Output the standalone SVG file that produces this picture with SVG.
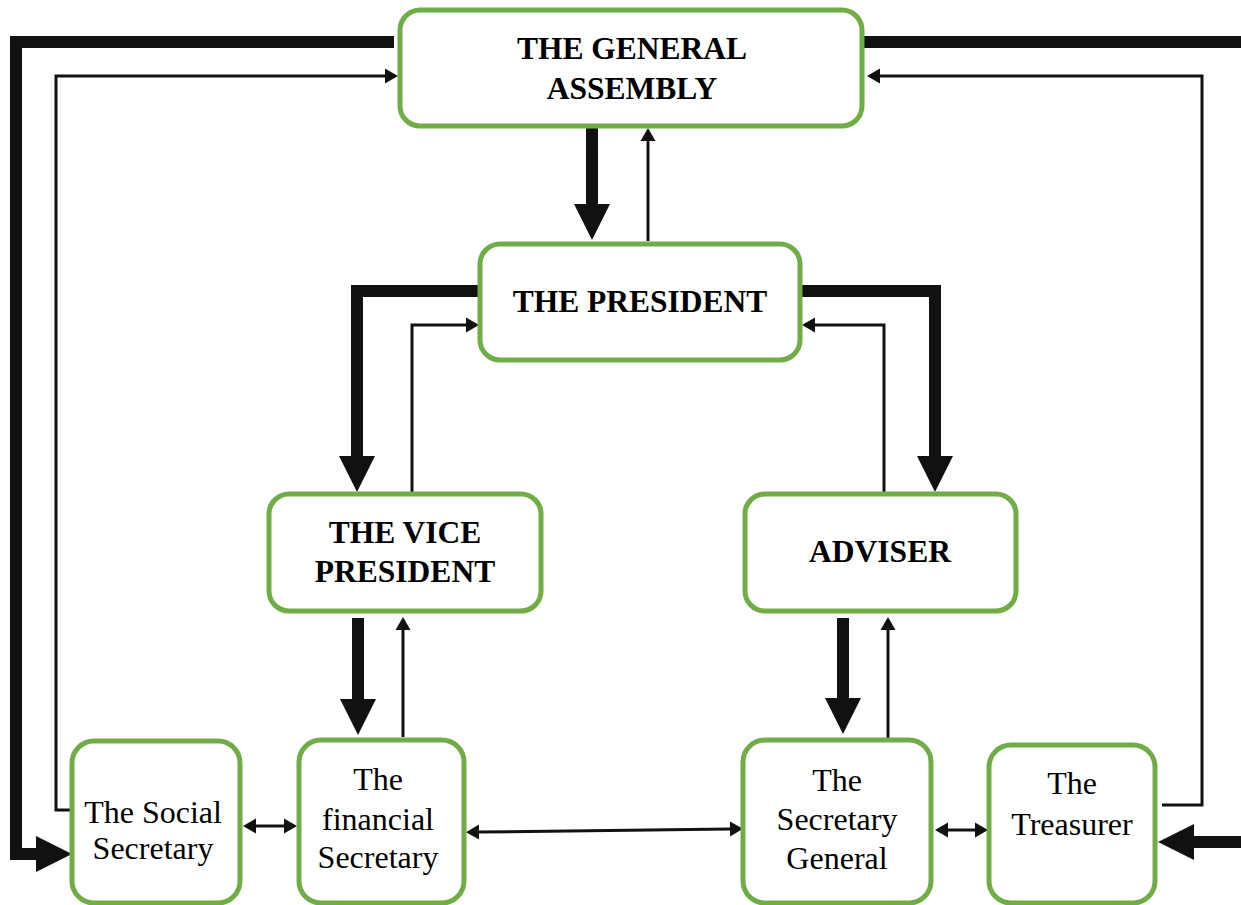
<svg xmlns="http://www.w3.org/2000/svg" width="1241" height="905" viewBox="0 0 1241 905">
<style>
.box{fill:#fff;stroke:#70AD47;stroke-width:5}
.b{font-family:"Liberation Serif","Times New Roman",serif;font-weight:bold;font-size:31.5px;fill:#000;text-anchor:middle}
.r{font-family:"Liberation Serif","Times New Roman",serif;font-size:32px;fill:#000;text-anchor:middle}
.thick{fill:none;stroke:#111;stroke-width:12;stroke-linejoin:miter}
.thin{fill:none;stroke:#111;stroke-width:3;stroke-linejoin:miter}
</style>
<defs>
<marker id="big" markerUnits="userSpaceOnUse" markerWidth="36" markerHeight="36" refX="0" refY="18" orient="auto" overflow="visible"><path d="M0,0 L36,18 L0,36 z" fill="#111"/></marker>
<marker id="sm" markerUnits="userSpaceOnUse" markerWidth="14" markerHeight="15" refX="0" refY="7.5" orient="auto-start-reverse" overflow="visible"><path d="M0,0 L13,7.5 L0,15 z" fill="#111"/></marker>
</defs>
<g id="connectors">
<path class="thick" d="M394,42 H16 V854 H36" marker-end="url(#big)"/>
<path class="thin" d="M70,810 H56 V76 H385" marker-end="url(#sm)"/>
<path class="thick" d="M862,42 H1248 V842 H1194" marker-end="url(#big)"/>
<path class="thin" d="M1162,805 H1202 V76 H880" marker-end="url(#sm)"/>
<path class="thick" d="M592,128 V204" marker-end="url(#big)"/>
<path class="thin" d="M648,241 V141" marker-end="url(#sm)"/>
<path class="thick" d="M478,291 H357 V456" marker-end="url(#big)"/>
<path class="thin" d="M412,494 V325 H466" marker-end="url(#sm)"/>
<path class="thick" d="M802,291 H935 V456" marker-end="url(#big)"/>
<path class="thin" d="M884,494 V325 H815" marker-end="url(#sm)"/>
<path class="thick" d="M358,618 V699" marker-end="url(#big)"/>
<path class="thin" d="M403,737 V630" marker-end="url(#sm)"/>
<path class="thick" d="M843,618 V698" marker-end="url(#big)"/>
<path class="thin" d="M888,738 V630" marker-end="url(#sm)"/>
<path class="thin" d="M256,826 H284" marker-start="url(#sm)" marker-end="url(#sm)"/>
<path class="thin" d="M479,832 L730,829" marker-start="url(#sm)" marker-end="url(#sm)"/>
<path class="thin" d="M948,830 H975" marker-start="url(#sm)" marker-end="url(#sm)"/>
</g>
<g id="general-assembly">
<rect class="box" x="400" y="10" width="462" height="116" rx="20"/>
<text class="b" x="632" y="59">THE GENERAL</text>
<text class="b" x="632" y="99">ASSEMBLY</text>
</g>
<g id="president">
<rect class="box" x="480" y="244" width="320" height="116" rx="20"/>
<text class="b" x="640" y="312">THE PRESIDENT</text>
</g>
<g id="vice-president">
<rect class="box" x="269" y="494" width="272" height="117" rx="20"/>
<text class="b" x="405" y="543">THE VICE</text>
<text class="b" x="405" y="582">PRESIDENT</text>
</g>
<g id="adviser">
<rect class="box" x="745" y="494" width="271" height="117" rx="20"/>
<text class="b" x="880" y="562">ADVISER</text>
</g>
<g id="social-secretary">
<rect class="box" x="72" y="741" width="168" height="162" rx="22"/>
<text class="r" x="153" y="823">The Social</text>
<text class="r" x="153" y="859">Secretary</text>
</g>
<g id="financial-secretary">
<rect class="box" x="299" y="740" width="165" height="163" rx="22"/>
<text class="r" x="378" y="790">The</text>
<text class="r" x="378" y="830">financial</text>
<text class="r" x="378" y="868">Secretary</text>
</g>
<g id="secretary-general">
<rect class="box" x="743" y="740" width="188" height="163" rx="22"/>
<text class="r" x="837" y="791">The</text>
<text class="r" x="837" y="830">Secretary</text>
<text class="r" x="837" y="869">General</text>
</g>
<g id="treasurer">
<rect class="box" x="989" y="745" width="166" height="158" rx="22"/>
<text class="r" x="1072" y="794">The</text>
<text class="r" x="1072" y="835">Treasurer</text>
</g>
</svg>
